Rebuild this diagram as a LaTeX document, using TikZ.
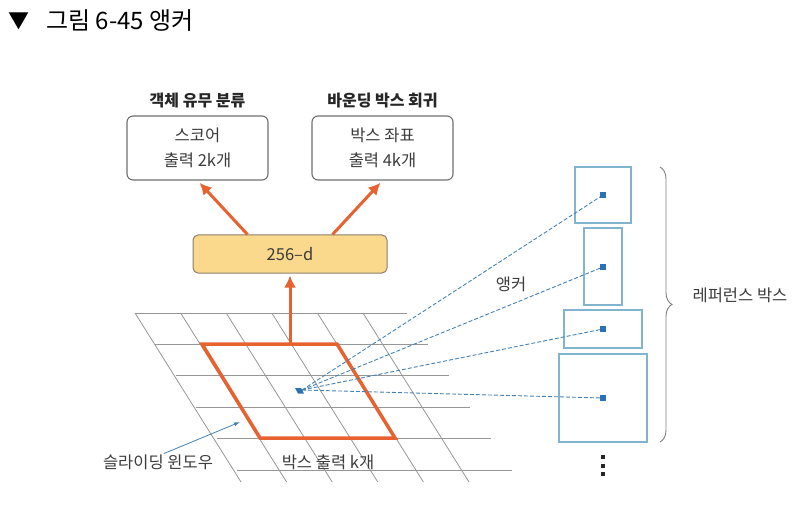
\documentclass[tikz,border=0pt]{standalone}
\usepackage{fontspec}
\setmainfont{Noto Sans CJK KR}
\usetikzlibrary{arrows.meta,decorations.pathreplacing}

\definecolor{arroworange}{RGB}{232,98,48}
\definecolor{featfill}{RGB}{250,216,140}
\definecolor{featedge}{RGB}{140,128,110}
\definecolor{boxgray}{RGB}{110,110,110}
\definecolor{gridgray}{RGB}{150,150,150}
\definecolor{anchorblue}{RGB}{42,114,181}
\definecolor{dashblue}{RGB}{70,130,180}
\definecolor{refblue}{RGB}{130,180,208}
\definecolor{textgray}{RGB}{60,60,60}

\begin{document}
\begin{tikzpicture}[x=1pt,y=-1pt]

\tikzstyle{every node}=[font=\fontsize{16.5}{25}\selectfont, text=textgray, inner sep=0pt]
\tikzstyle{outbox}=[draw=boxgray, line width=1.1pt, rounded corners=6pt, minimum width=141pt, minimum height=64pt, align=center]
\tikzstyle{refbox}=[draw=refblue, line width=1.2pt]
\tikzstyle{anchordot}=[fill=anchorblue, minimum size=6pt]
\tikzstyle{orangearrow}=[->, >={Latex[length=12pt,width=12pt]}, arroworange, line width=3pt]
\tikzstyle{anchorline}=[dashblue, dash pattern=on 4pt off 2pt, line width=0.9pt]
\tikzstyle{gridline}=[gridgray, line width=0.8pt]

\useasboundingbox (0,0) rectangle (795,505);

\node[text=black, font=\fontsize{21}{24}\selectfont] (tri) at (19,21) {▼};
\node[anchor=west, text=black, font=\fontsize{24}{28}\selectfont] (title) at (46,21) {그림 6-45 앵커};

\pgfmathsetmacro\y{101}
\node[font=\fontsize{16}{22}\selectfont\bfseries, text=black!85] (cls_title) at (197.5,\y) {객체 유무 분류};
\node[font=\fontsize{16}{22}\selectfont\bfseries, text=black!85] (reg_title) at (382.5,\y) {바운딩 박스 회귀};

\pgfmathsetmacro\y{148}
\node[outbox] (score) at (197.5,\y) {스코어\\출력 2k개};
\node[outbox] (coord) at (382.5,\y) {박스 좌표\\출력 4k개};

\node[draw=featedge, fill=featfill, line width=1pt, rounded corners=5pt, minimum width=194pt, minimum height=38pt] (feat) at (290,254) {256--d};

\draw[orangearrow, shorten >=3pt] ([xshift=55pt]feat.north west) -- (score.south);
\draw[orangearrow, shorten >=3pt] ([xshift=-55pt]feat.north east) -- (coord.south);

\foreach \i in {0,...,5}
  \draw[gridline] (135+20.4*\i, 313+31.4*\i) -- (407+21*\i, 313+31.4*\i);
\foreach \j in {0,...,5}
  \draw[gridline] (135+45.6*\j, 313) -- (241+45.6*\j, 482);

\coordinate (win_nw) at (202,344);
\coordinate (win_ne) at (337,344);
\coordinate (win_se) at (395,438);
\coordinate (win_sw) at (260,438);
\coordinate (win_top) at (290,344);
\draw[arroworange, line width=3.5pt] (win_nw) -- (win_ne) -- (win_se) -- (win_sw) -- cycle;

\draw[orangearrow, shorten >=2pt] (win_top) -- (feat.south);

\node[refbox, minimum width=56pt, minimum height=56pt] (ref1) at (603,195) {};
\node[refbox, minimum width=38pt, minimum height=77pt] (ref2) at (603,266.5) {};
\node[refbox, minimum width=78pt, minimum height=38pt] (ref3) at (603,329) {};
\node[refbox, minimum width=88pt, minimum height=88pt] (ref4) at (603,398) {};

\node[anchordot] (dot1) at (ref1) {};
\node[anchordot] (dot2) at (603,267) {};
\node[anchordot] (dot3) at (ref3) {};
\node[anchordot] (dot4) at (ref4) {};

\fill[anchorblue] (295,388) -- (301,388) -- (304,393.5) -- (298,393.5) -- cycle;
\coordinate (anchor) at (302,390);

\foreach \k in {1,...,4}
  \draw[anchorline] (anchor) -- (dot\k);

\foreach \k in {0,1,2}
  \node[fill=black!85, minimum size=4pt] (vdot\k) at (603,457+8.5*\k) {};

\coordinate (brace_top) at (660,167);
\coordinate (brace_bot) at (660,442);
\draw[decorate, decoration={brace, amplitude=12pt}, gray, line width=0.9pt] (brace_top) -- (brace_bot);

\node (ref_label) at (740,295) {레퍼런스 박스};
\node (anchor_label) at (511,284) {앵커};

\node (slide) at (158,462) {슬라이딩 윈도우};
\coordinate (slide_tip) at (240,422);
\draw[->, >={Latex[length=6pt,width=4pt]}, dashblue, line width=0.8pt, shorten <=2pt] ([xshift=4pt]slide.north) -- (slide_tip);

\node (kbox) at (328,462) {박스 출력 k개};

\end{tikzpicture}
\end{document}
